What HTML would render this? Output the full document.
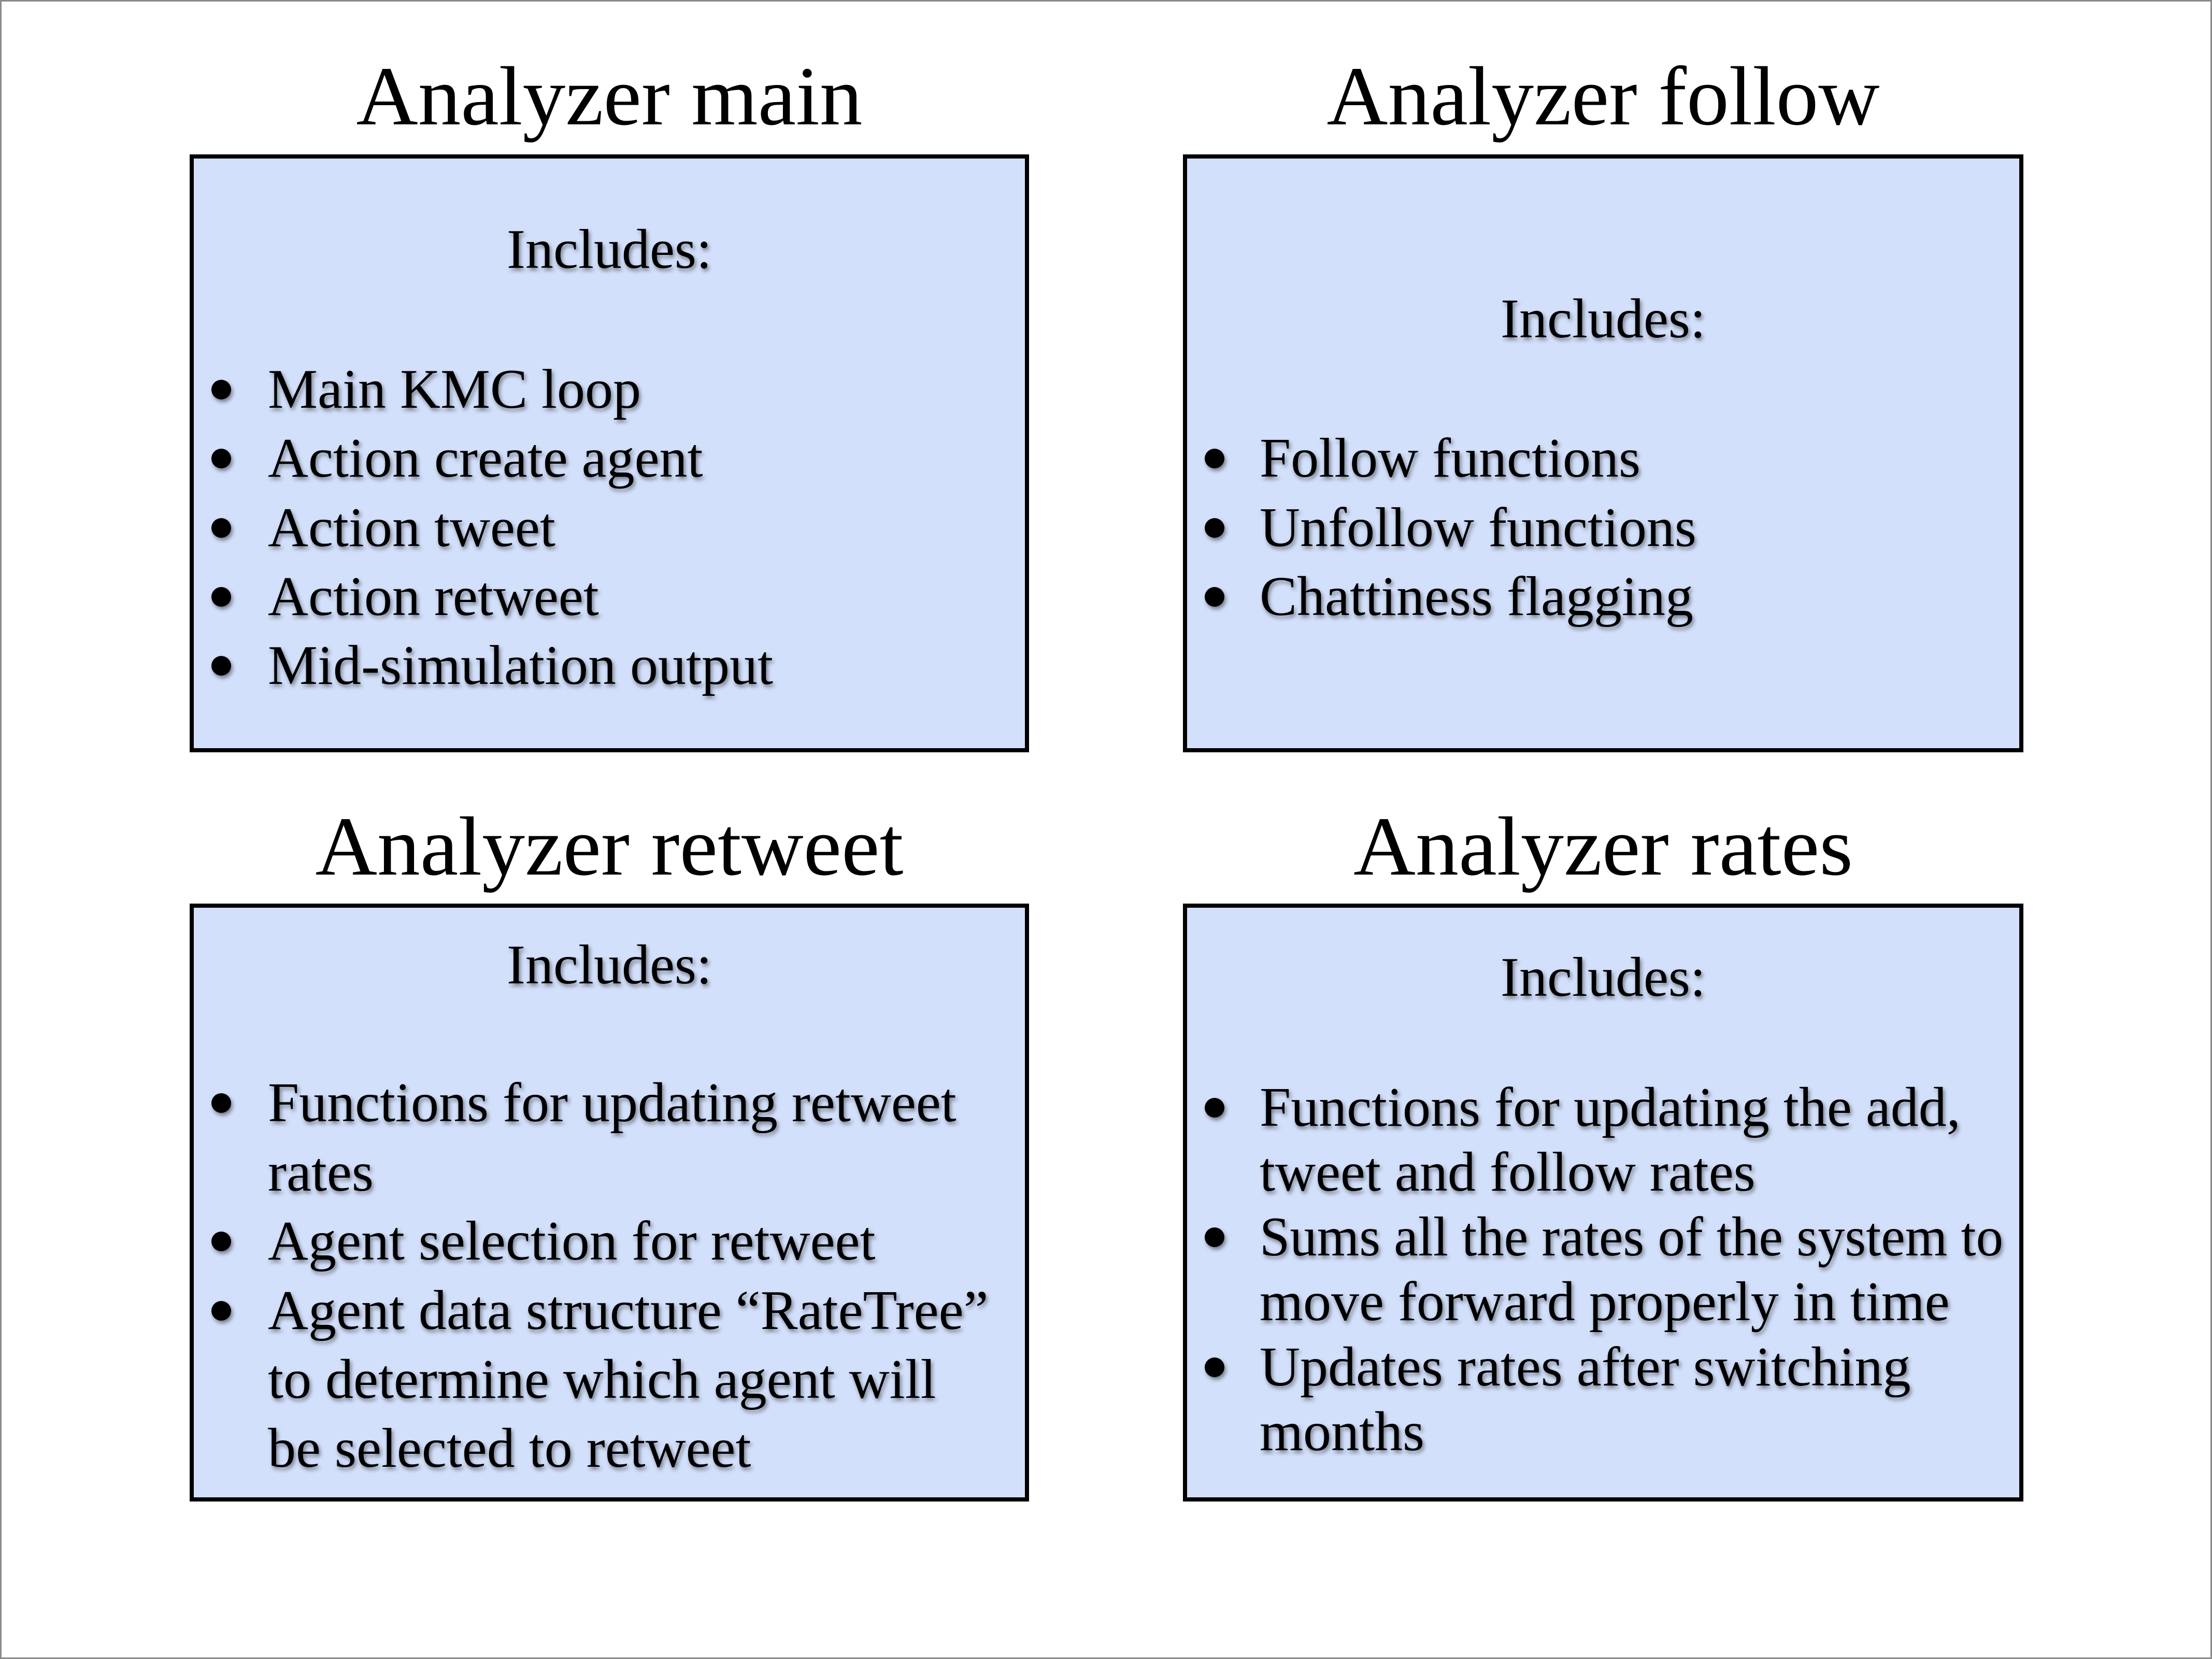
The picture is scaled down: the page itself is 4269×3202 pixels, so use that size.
<!DOCTYPE html>
<html><head><meta charset="utf-8"><style>
html,body{margin:0;padding:0;background:#fff;}
svg{display:block;}
text{font-family:"Liberation Serif",serif;fill:#000;}
.t{font-size:162px;}
.b{font-size:108px;}
</style></head><body>
<svg width="4269" height="3202" viewBox="0 0 4269 3202" xmlns="http://www.w3.org/2000/svg">
<defs>
<filter id="sh" x="-5%" y="-5%" width="110%" height="120%">
<feDropShadow dx="3" dy="5" stdDeviation="4" flood-color="#000" flood-opacity="0.45"/>
</filter>
</defs>
<rect x="1.5" y="1.5" width="4266" height="3199" fill="#fff" stroke="#8a8a8a" stroke-width="3"/>
<g fill="#d3e0fb" stroke="#000" stroke-width="8">
<rect x="370" y="302" width="1612" height="1146"/>
<rect x="2287" y="302" width="1614" height="1146"/>
<rect x="370" y="1748" width="1612" height="1146"/>
<rect x="2287" y="1748" width="1614" height="1146"/>
</g>
<g class="t" text-anchor="middle">
<text x="1176" y="240" class="t" textLength="977" lengthAdjust="spacingAndGlyphs">Analyzer main</text>
<text x="3094" y="240" class="t" textLength="1067" lengthAdjust="spacingAndGlyphs">Analyzer follow</text>
<text x="1176" y="1688" class="t" textLength="1135" lengthAdjust="spacingAndGlyphs">Analyzer retweet</text>
<text x="3094" y="1688" class="t" textLength="964" lengthAdjust="spacingAndGlyphs">Analyzer rates</text>
</g>
<g filter="url(#sh)">
<g class="b" text-anchor="middle">
<text x="1176" y="517" class="b">Includes:</text>
<text x="3094" y="651" class="b">Includes:</text>
<text x="1176" y="1898" class="b">Includes:</text>
<text x="3094" y="1922" class="b">Includes:</text>
</g>
<g class="b">
<text x="517" y="787" class="b">Main KMC loop</text>
<text x="517" y="920" class="b">Action create agent</text>
<text x="517" y="1054" class="b">Action tweet</text>
<text x="517" y="1187" class="b">Action retweet</text>
<text x="517" y="1320" class="b">Mid-simulation output</text>

<text x="2431" y="920" class="b">Follow functions</text>
<text x="2431" y="1054" class="b">Unfollow functions</text>
<text x="2431" y="1187" class="b">Chattiness flagging</text>

<text x="517" y="2164" class="b">Functions for updating retweet</text>
<text x="517" y="2298" class="b">rates</text>
<text x="517" y="2431" class="b">Agent selection for retweet</text>
<text x="517" y="2565" class="b">Agent data structure “RateTree”</text>
<text x="517" y="2698" class="b">to determine which agent will</text>
<text x="517" y="2831" class="b">be selected to retweet</text>

<text x="2431" y="2173" class="b">Functions for updating the add,</text>
<text x="2431" y="2298" class="b">tweet and follow rates</text>
<text x="2431" y="2423" class="b" textLength="1435" lengthAdjust="spacingAndGlyphs">Sums all the rates of the system to</text>
<text x="2431" y="2548" class="b">move forward properly in time</text>
<text x="2431" y="2674" class="b">Updates rates after switching</text>
<text x="2431" y="2799" class="b">months</text>
</g>
<g fill="#000">
<circle cx="427" cy="752" r="19"/>
<circle cx="427" cy="885" r="19"/>
<circle cx="427" cy="1019" r="19"/>
<circle cx="427" cy="1152" r="19"/>
<circle cx="427" cy="1285" r="19"/>
<circle cx="2344" cy="885" r="19"/>
<circle cx="2344" cy="1019" r="19"/>
<circle cx="2344" cy="1152" r="19"/>
<circle cx="427" cy="2129" r="19"/>
<circle cx="427" cy="2396" r="19"/>
<circle cx="427" cy="2530" r="19"/>
<circle cx="2344" cy="2138" r="19"/>
<circle cx="2344" cy="2388" r="19"/>
<circle cx="2344" cy="2639" r="19"/>
</g>
</g>
</svg>
</body></html>
